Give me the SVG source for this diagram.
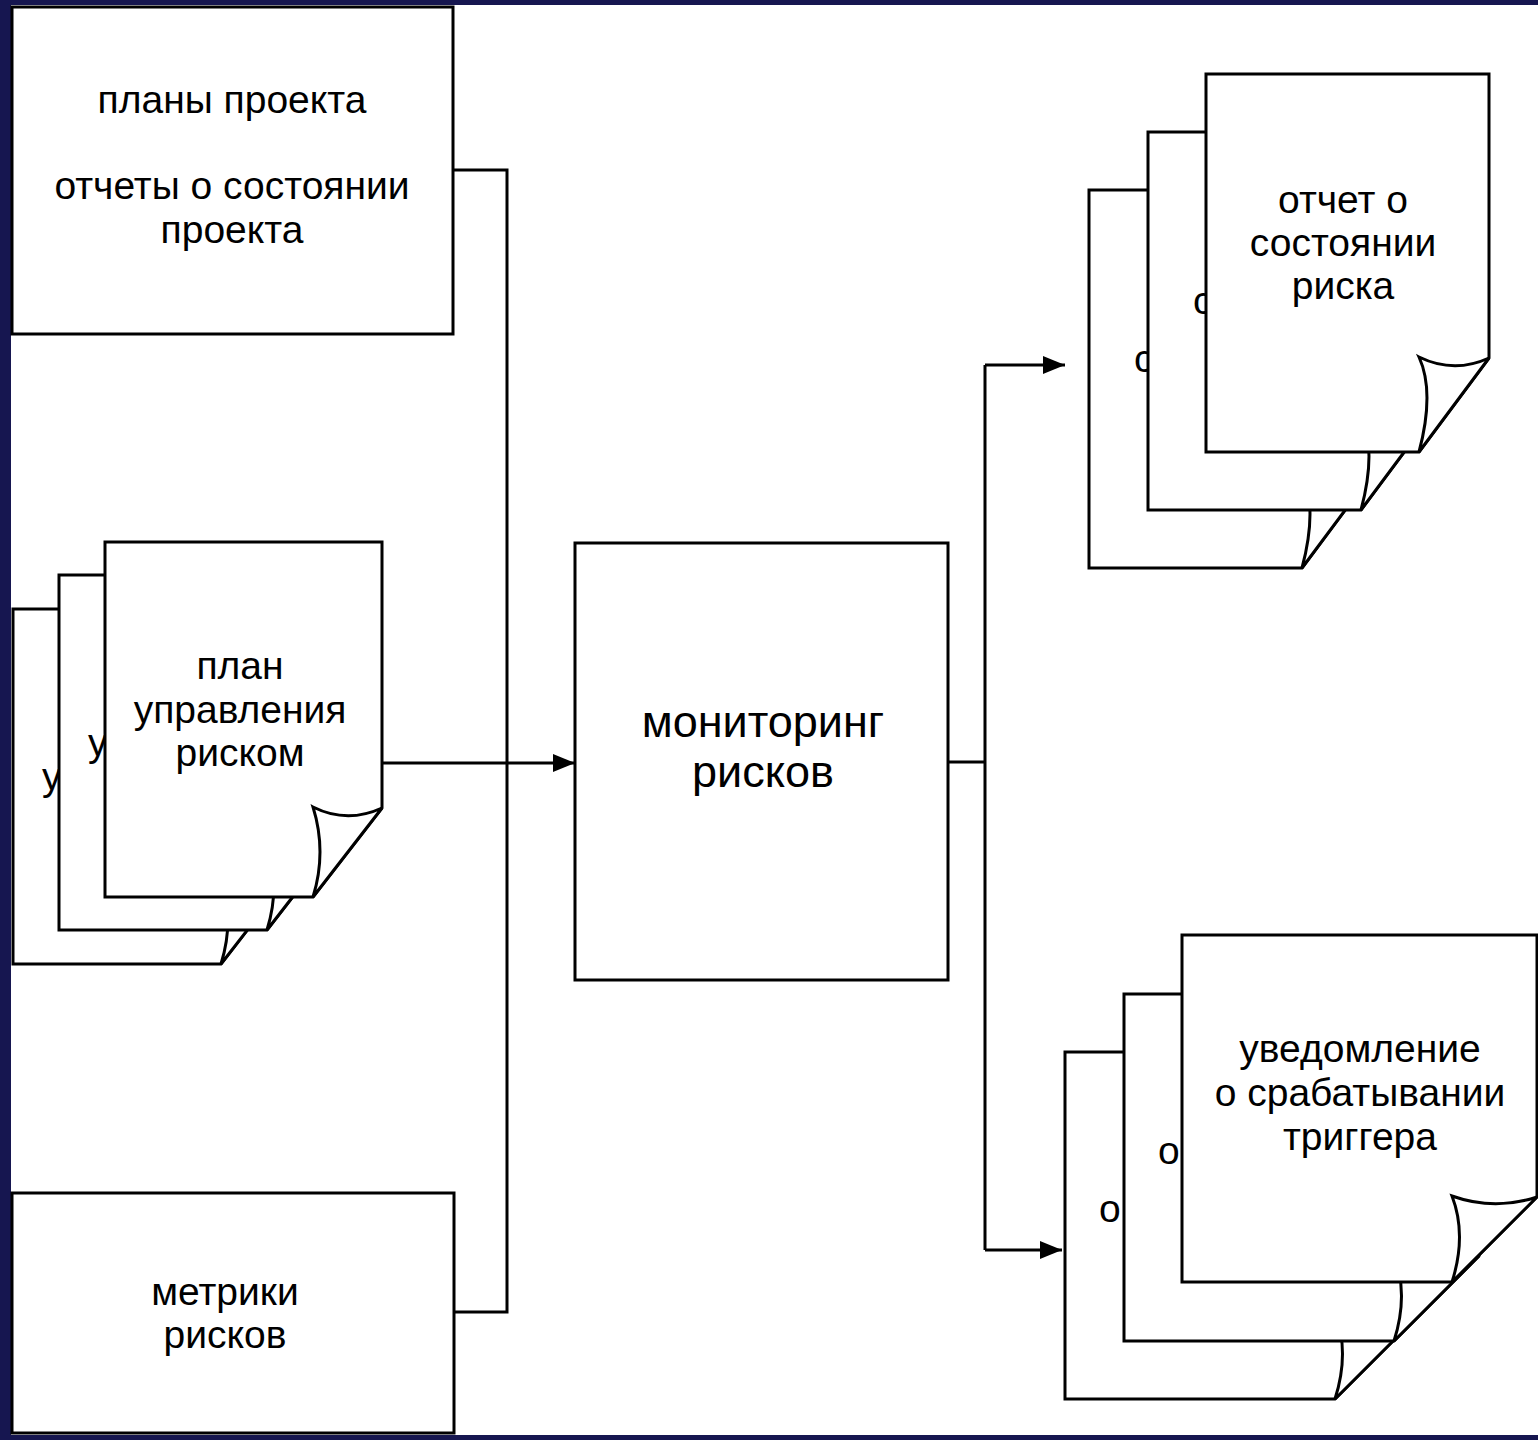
<svg xmlns="http://www.w3.org/2000/svg" xmlns:xlink="http://www.w3.org/1999/xlink" width="1538" height="1440" viewBox="0 0 1538 1440">
<defs>
<style>
.box{fill:#fff;stroke:#000;stroke-width:3}
.doc{fill:#fff;stroke:#000;stroke-width:3;stroke-linejoin:miter}
.ln{fill:none;stroke:#000;stroke-width:3}
.t{font-family:"Liberation Sans",Arial,sans-serif;font-size:39px;fill:#000;text-anchor:middle}
.ts{font-family:"Liberation Sans",Arial,sans-serif;font-size:39px;fill:#000;text-anchor:start}
.tb{font-family:"Liberation Sans",Arial,sans-serif;font-size:45px;fill:#000;text-anchor:middle}
</style>
<marker id="arr" markerUnits="userSpaceOnUse" markerWidth="24" markerHeight="20" refX="22" refY="9" orient="auto">
<path d="M0,0 L22,9 L0,18 Z" fill="#000"/>
</marker>
<g id="docL">
<path class="doc" d="M0,0 H277 V266 L208,355 H0 Z"/>
<path class="doc" d="M277,266 Q242,282 208,265 Q222,310 208,355 Z"/>
</g>
<g id="docR1">
<path class="doc" d="M0,0 H283 V284 L213,378 H0 Z"/>
<path class="doc" d="M283,284 Q248,300 213,283 Q229,318 213,378 Z"/>
</g>
<g id="docR2">
<path class="doc" d="M0,0 H355 V262 L270,347 H0 Z"/>
<path class="doc" d="M355,262 Q312,276 270,261 Q285,300 270,347 Z"/>
</g>
</defs>
<rect x="0" y="0" width="1538" height="1440" fill="#161650"/>
<rect x="11" y="5" width="1527" height="1430" fill="#fff"/>

<g id="connectors">
<path class="ln" d="M453,170 H507 V1312 H454"/>
<path class="ln" d="M382,763 H575" marker-end="url(#arr)"/>
<path class="ln" d="M948,762 H985"/>
<path class="ln" d="M985,365 V1250"/>
<path class="ln" d="M985,365 H1065" marker-end="url(#arr)"/>
<path class="ln" d="M985,1250 H1062" marker-end="url(#arr)"/>
</g>

<g id="project-plans">
<rect class="box" x="12" y="7" width="441" height="327"/>
<text class="t" x="232" y="113">планы проекта</text>
<text class="t" x="232" y="199">отчеты о состоянии</text>
<text class="t" x="232" y="243">проекта</text>
</g>

<g id="risk-metrics">
<rect class="box" x="12" y="1193" width="442" height="240"/>
<text class="t" x="225" y="1305">метрики</text>
<text class="t" x="225" y="1348">рисков</text>
</g>

<g id="risk-plan">
<g id="risk-plan-3">
<use xlink:href="#docL" x="13" y="609"/>
<text class="ts" x="42" y="790">у</text>
</g>
<g id="risk-plan-2">
<use xlink:href="#docL" x="59" y="575"/>
<text class="ts" x="88" y="756">у</text>
</g>
<g id="risk-plan-1">
<use xlink:href="#docL" x="105" y="542"/>
<text class="t" x="240" y="679">план</text>
<text class="t" x="240" y="723">управления</text>
<text class="t" x="240" y="766">риском</text>
</g>
</g>

<g id="monitoring">
<rect class="box" x="575" y="543" width="373" height="437"/>
<text class="tb" x="763" y="737">мониторинг</text>
<text class="tb" x="763" y="787">рисков</text>
</g>

<g id="risk-report">
<g id="risk-report-3">
<use xlink:href="#docR1" x="1089" y="190"/>
<text class="ts" x="1134" y="372">с</text>
</g>
<g id="risk-report-2">
<use xlink:href="#docR1" x="1148" y="132"/>
<text class="ts" x="1193" y="314">с</text>
</g>
<g id="risk-report-1">
<use xlink:href="#docR1" x="1206" y="74"/>
<text class="t" x="1343" y="213">отчет о</text>
<text class="t" x="1343" y="256">состоянии</text>
<text class="t" x="1343" y="299">риска</text>
</g>
</g>

<g id="trigger-notice">
<g id="trigger-notice-3">
<use xlink:href="#docR2" x="1065" y="1052"/>
<text class="ts" x="1099" y="1222">о</text>
</g>
<g id="trigger-notice-2">
<use xlink:href="#docR2" x="1124" y="994"/>
<text class="ts" x="1158" y="1164">о</text>
</g>
<g id="trigger-notice-1">
<use xlink:href="#docR2" x="1182" y="935"/>
<text class="t" x="1360" y="1062">уведомление</text>
<text class="t" x="1360" y="1106">о срабатывании</text>
<text class="t" x="1360" y="1150">триггера</text>
</g>
</g>
</svg>
